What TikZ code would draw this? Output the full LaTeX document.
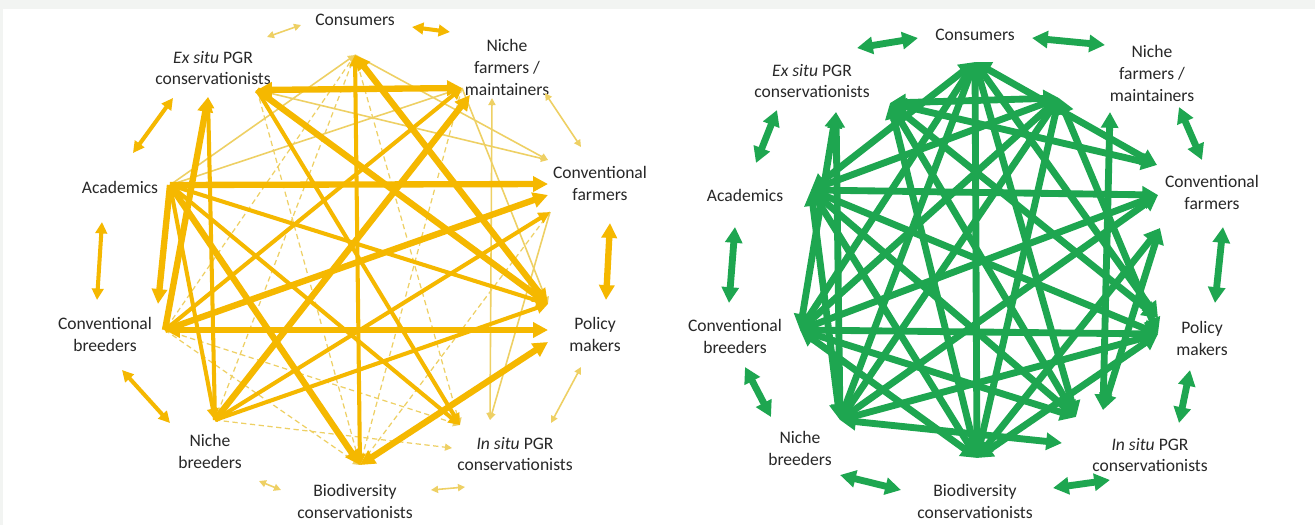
\documentclass[tikz,border=0pt]{standalone}
\usepackage{fontspec}
\setmainfont{Carlito}
\usetikzlibrary{arrows.meta}
\definecolor{gold}{RGB}{245,184,0}
\definecolor{paleg}{RGB}{238,208,100}
\definecolor{leaf}{RGB}{30,166,80}
\definecolor{ink}{RGB}{40,40,40}
\definecolor{frame}{RGB}{242,244,242}

\tikzset{
  lbl/.style={text=ink, align=center, inner sep=1pt, font=\fontsize{10}{12.5}\selectfont},
  lfaint/.style={paleg, line width=0.7pt, dash pattern=on 3pt off 2pt, -{Triangle[length=4pt,width=4pt]}},
  lslim/.style={paleg, line width=0.9pt, -{Triangle[length=4pt,width=4pt]}},
  lslimboth/.style={paleg, line width=0.9pt, {Triangle[length=4pt,width=4pt]}-{Triangle[length=4pt,width=4pt]}},
  lmid/.style={gold, line width=2.3pt, -{Triangle[length=6.5pt,width=6.5pt]}},
  lmidboth/.style={gold, line width=2.3pt, {Triangle[length=6.5pt,width=6.5pt]}-{Triangle[length=6.5pt,width=6.5pt]}},
  lwide/.style={gold, line width=3.6pt, -{Triangle[length=8.5pt,width=8.5pt]}},
  lwideboth/.style={gold, line width=3.6pt, {Triangle[length=8.5pt,width=8.5pt]}-{Triangle[length=8.5pt,width=8.5pt]}},
  gwide/.style={leaf, line width=3.9pt, {Triangle[length=9pt,width=9.5pt]}-{Triangle[length=9pt,width=9.5pt]}},
}

\begin{document}
\begin{tikzpicture}[x=0.02cm, y=-0.02cm]
\useasboundingbox (0,0) rectangle (1315,525);
\fill[frame] (0,0) rectangle (1315,525);
\fill[white] (3,9) rectangle (1315,525);

% labels, left network
\node[lbl] (L-con-t) at (355,20) {Consumers};
\node[lbl] (L-exs-t) at (213,68) {\textit{Ex situ} PGR\\conservationists};
\node[lbl] (L-nfm-t) at (507,67) {Niche\\farmers /\\maintainers};
\node[lbl] (L-aca-t) at (120,187) {Academics};
\node[lbl] (L-cfm-t) at (600,183) {Conventional\\farmers};
\node[lbl] (L-cbr-t) at (105,334) {Conventional\\breeders};
\node[lbl] (L-pol-t) at (595,334) {Policy\\makers};
\node[lbl] (L-nbr-t) at (210,451) {Niche\\breeders};
\node[lbl] (L-ins-t) at (515,454) {\textit{In situ} PGR\\conservationists};
\node[lbl] (L-bio-t) at (355,501) {Biodiversity\\conservationists};

% labels, right network
\node[lbl] (R-con-t) at (975,35) {Consumers};
\node[lbl] (R-exs-t) at (812,81) {\textit{Ex situ} PGR\\conservationists};
\node[lbl] (R-nfm-t) at (1152,73) {Niche\\farmers /\\maintainers};
\node[lbl] (R-aca-t) at (745,195) {Academics};
\node[lbl] (R-cfm-t) at (1212,192) {Conventional\\farmers};
\node[lbl] (R-cbr-t) at (735,336) {Conventional\\breeders};
\node[lbl] (R-pol-t) at (1202,338) {Policy\\makers};
\node[lbl] (R-nbr-t) at (800,448) {Niche\\breeders};
\node[lbl] (R-ins-t) at (1150,455) {\textit{In situ} PGR\\conservationists};
\node[lbl] (R-bio-t) at (975,501) {Biodiversity\\conservationists};

% where the arrows meet, left
\foreach \n/\x/\y in {con/355/55, exs1/208/97, exs2/257/90, nfm1/462/88, nfm2/470/95,
  nfm3/492/98, cfm1/548/184, cfm2/548/160, cfm3/550/212, cfm4/548/195, pol1/548/330,
  pol2/548/304, pol3/548/342, ins1/460/425, ins2/490/420, ins3/452/448, bio/360/465,
  nbr/215/420, cbr1/165/330, cbr2/158/304, aca/170/185}
  \coordinate (L-\n) at (\x,\y);

% where the arrows meet, right
\foreach \n/\x/\y in {con/975/62, exs1/836/112, exs2/890/103, nfm1/1059/98, nfm2/1110/112,
  cfm1/1157/165, cfm2/1158/195, cfm3/1160/228, pol1/1158/318, pol2/1158/334, ins1/1076/417,
  ins2/1103/410, ins3/1062/443, bio/977/458, nbr/840/420, cbr/800/330, aca/811/190}
  \coordinate (R-\n) at (\x,\y);

% left: weak ties first, strong ties on top
\foreach \a/\b/\s in {con/ins1/lfaint, con/nbr/lfaint, con/cbr1/lfaint, exs2/bio/lfaint,
  nfm1/bio/lfaint, cfm3/bio/lfaint, nbr/ins3/lfaint, cbr1/ins1/lfaint, cbr1/bio/lfaint,
  con/cfm2/lslim, aca/con/lslim, exs2/cfm2/lslim, nfm1/pol2/lslim, aca/nfm1/lslim,
  cfm3/ins2/lslim, nfm3/ins2/lslimboth,
  con/bio/lmidboth, nbr/exs1/lmid, exs2/ins1/lmid, cbr1/nfm1/lmid, nbr/cfm3/lmid,
  nbr/pol2/lmid, aca/pol2/lmid, aca/ins1/lmid, aca/nbr/lmid,
  con/pol2/lwideboth, exs2/nfm1/lwideboth, exs2/pol2/lwide, cbr1/exs1/lwide,
  nbr/nfm2/lwide, cbr1/cfm4/lwide, aca/cfm1/lwide, bio/pol3/lwideboth,
  cbr1/pol1/lwideboth, aca/bio/lwide, aca/cbr2/lwide}
  \draw[\s] (L-\a) -- (L-\b);

% right: every tie is strong
\foreach \a/\b in {con/cfm1, con/pol1, con/ins1, con/bio, con/nbr, con/cbr, con/aca,
  exs2/nfm1, exs2/cfm1, exs2/pol1, exs2/ins1, exs2/bio, exs1/nbr, exs1/cbr,
  nfm1/pol2, nfm2/ins2, nfm1/bio, nfm1/nbr, nfm1/cbr, nfm1/aca,
  cfm3/ins2, cfm3/bio, cfm2/nbr, cfm2/cbr, cfm2/aca,
  pol2/bio, pol2/nbr, pol2/cbr, pol2/aca, ins3/nbr, ins1/cbr, ins1/aca,
  bio/cbr, bio/aca, nbr/aca}
  \draw[gwide] (R-\a) -- (R-\b);

% neighbours round the ring, left
\foreach \i/\xa/\ya/\xb/\yb/\s in {1/267/37/301/25/lslimboth, 2/412/27/450/32/lmidboth,
  3/545/93/581/147/lslimboth, 4/610/223/606/300/lwideboth, 5/581/367/551/423/lslimboth,
  6/465/487/431/490/lslimboth, 7/259/481/281/490/lslimboth, 8/170/423/122/370/lmidboth,
  9/102/222/97/300/lmidboth, 10/133/153/173/98/lmidboth}
{
  \coordinate (L-r\i-a) at (\xa,\ya);
  \coordinate (L-r\i-b) at (\xb,\yb);
  \draw[\s] (L-r\i-a) -- (L-r\i-b);
}

% neighbours round the ring, right
\foreach \i/\xa/\ya/\xb/\yb in {1/857/48/918/38, 2/1032/38/1105/45, 3/1179/107/1202/160,
  4/1223/227/1215/303, 5/1190/370/1179/423, 6/1110/480/1053/488, 7/901/490/840/475,
  8/771/417/745/367, 9/729/303/735/227, 10/756/163/777/110}
{
  \coordinate (R-r\i-a) at (\xa,\ya);
  \coordinate (R-r\i-b) at (\xb,\yb);
  \draw[gwide] (R-r\i-a) -- (R-r\i-b);
}
\end{tikzpicture}
\end{document}
